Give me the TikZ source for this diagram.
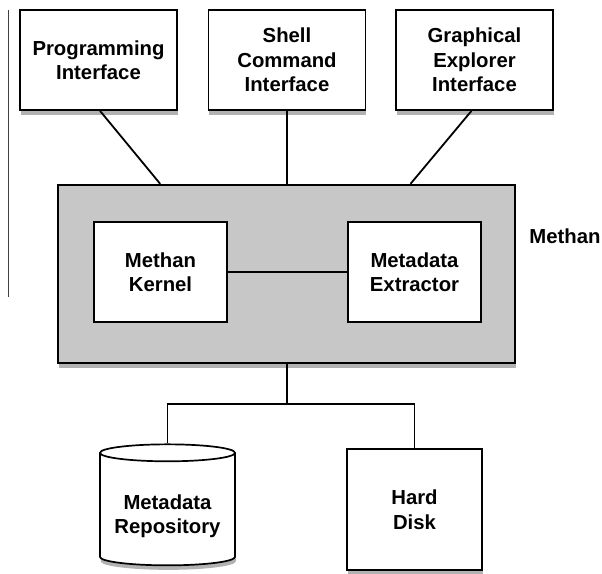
\documentclass[tikz,border=0pt]{standalone}
\usepackage{fontspec}
\setmainfont{Liberation Sans}
\usepackage{tikz}
\usetikzlibrary{shapes.geometric,shadows,positioning,calc}

\begin{document}
\begin{tikzpicture}[x=1pt, y=-1pt,
  font=\fontsize{20.3}{24.5}\selectfont\bfseries,
  shade/.style={drop shadow={shadow xshift=0.8pt, shadow yshift=-4.5pt, fill=black, opacity=0.3}},
  box/.style={draw, line width=1.7pt, fill=white, align=center, minimum width=157pt, minimum height=100pt, inner sep=0pt, shade},
  inbox/.style={draw, line width=1.1pt, fill=white, align=center, minimum width=133pt, minimum height=100pt, inner sep=0pt},
  store/.style={box, minimum width=135pt, minimum height=121pt},
  link/.style={line width=1.8pt}]
\useasboundingbox (0,0) rectangle (602,573);
\draw[black!75, line width=0.9pt] (8,10) -- (8,297);
% user interfaces
\node[box] (prog) at (98.5,60) {Programming\\Interface};
\node[box] (shell) at (287,60) {Shell\\Command\\Interface};
\node[box] (gui) at (474.5,60) {Graphical\\Explorer\\Interface};
% methan core
\node[draw, line width=2.3pt, fill=black!22, minimum width=457pt, minimum height=178pt, shade] (methan) at (286.5,274) {};
\node[inbox] (kernel) at (160.5,272) {Methan\\Kernel};
\node[inbox] (extract) at (414.5,272) {Metadata\\Extractor};
\node (mlabel) at (565,236) {Methan};
% storage
\node[cylinder, shape border rotate=90, aspect=0.16, draw, line width=1.7pt, fill=white, align=center, minimum width=135pt, minimum height=121pt, inner sep=0pt, shade] (repo) at (167.5,509.5) {\\[4pt]Metadata\\Repository};
\node[store] (disk) at (414.5,509.5) {Hard\\Disk};
\coordinate (split) at (287,404);
\draw[link] (prog.south) ++(1.5,0) coordinate (pa) -- ($(methan.north west)!0.225!(methan.north east)$);
\draw[link] (shell.south) -- (shell.south |- methan.north);
\draw[link] (gui.south) ++(-3,0) coordinate (ga) -- ($(methan.north west)!0.77!(methan.north east)$);
\draw[link, line width=1.2pt] (kernel) -- (extract);
\draw[link] (methan.south -| split) -- (split);
\draw[link] (repo.top) |- (split) -| (disk.north);
\end{tikzpicture}
\end{document}
